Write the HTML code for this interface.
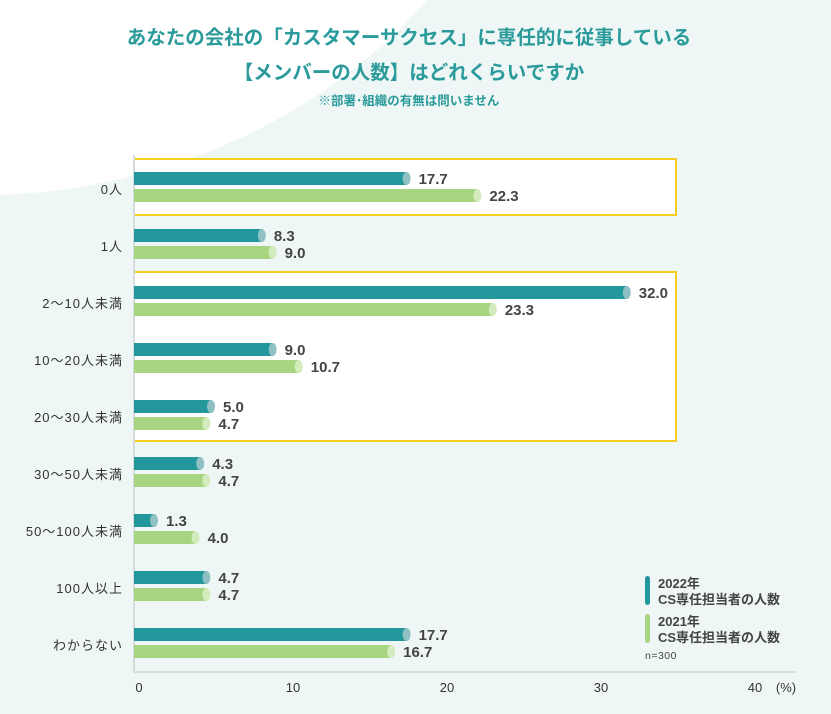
<!DOCTYPE html>
<html><head><meta charset="utf-8"><style>
html,body{margin:0;padding:0;width:831px;height:714px;overflow:hidden;background:#eff7f6;font-family:"Liberation Sans","Noto Sans CJK JP",sans-serif;}
</style></head><body>
<svg id="chart" width="831" height="714" xmlns="http://www.w3.org/2000/svg" font-family="'Liberation Sans','Noto Sans CJK JP',sans-serif">
<rect width="831" height="714" fill="#eff7f6"/>
<ellipse cx="-20" cy="-330" rx="575" ry="525" fill="#ffffff"/>
<text x="409" y="44" text-anchor="middle" font-size="19.5" font-weight="bold" fill="#2b9a9a">あなたの会社の「カスタマーサクセス」に専任的に従事している</text>
<text x="409" y="79" text-anchor="middle" font-size="19.5" font-weight="bold" fill="#2b9a9a">【メンバーの人数】はどれくらいですか</text>
<text x="409" y="105" text-anchor="middle" font-size="12.5" font-weight="bold" fill="#2b9a9a">※部署･組織の有無は問いません</text>
<g id="plot"></g>
<g>
<rect x="645" y="576" width="5" height="29" rx="2.5" fill="#22979c"/>
<text x="658" y="588" font-size="13" font-weight="bold" fill="#444">2022年</text>
<text x="658" y="604" font-size="13" font-weight="bold" fill="#444">CS専任担当者の人数</text>
<rect x="645" y="614" width="5" height="29" rx="2.5" fill="#a8d582"/>
<text x="658" y="626" font-size="13" font-weight="bold" fill="#444">2021年</text>
<text x="658" y="642" font-size="13" font-weight="bold" fill="#444">CS専任担当者の人数</text>
<text x="645" y="659" font-size="10.5" fill="#444" letter-spacing="0.5">n=300</text>
</g>
</svg>
<script>
const categories=["0人","1人","2～10人未満","10～20人未満","20～30人未満","30～50人未満","50～100人未満","100人以上","わからない"];
const values2022=[17.7,8.3,32.0,9.0,5.0,4.3,1.3,4.7,17.7];
const values2021=[22.3,9.0,23.3,10.7,4.7,4.7,4.0,4.7,16.7];
const xTicks=[0,10,20,30,40];
const NS="http://www.w3.org/2000/svg";
const g=document.getElementById('plot');
const x0=134,pxPer=15.4,rowTop=189,rowStep=57;
const xs=v=>x0+v*pxPer;
const ys=i=>rowTop+i*rowStep;
function mk(t,a){const e=document.createElementNS(NS,t);for(const k in a)e.setAttribute(k,a[k]);g.appendChild(e);return e;}
let hb=mk('rect',{x:134,y:ys(0)-30,width:542,height:56,fill:'#fff',stroke:'#f2cf1f','stroke-width':2});


hb=mk('rect',{x:134,y:ys(2)-31,width:542,height:169,fill:'#fff',stroke:'#f2cf1f','stroke-width':2});


let ax=mk('line',{x1:x0,y1:155,x2:x0,y2:672,stroke:'#d6dcdc','stroke-width':2});


ax=mk('line',{x1:x0,y1:672,x2:795,y2:672,stroke:'#d6dcdc','stroke-width':2});


xTicks.forEach(t=>{const e=mk('text',{x:xs(t)+5,y:692,'text-anchor':'middle','font-size':13,fill:'#333'});e.textContent=t;

});
let u=mk('text',{x:786,y:692,'text-anchor':'middle','font-size':13,fill:'#333'});u.textContent='(%)';


function bar(i,v,yy,col,cap,name){
 const w=Math.max(xs(v)-x0,0);
 const r=mk('rect',{x:x0,y:yy,width:w,height:13,fill:col});
 
 
 const c=mk('ellipse',{cx:x0+w,cy:yy+6.5,rx:4,ry:6.5,fill:cap});
 
 
 const t=mk('text',{x:x0+w+12,y:yy+12,'font-size':15,'font-weight':'bold',fill:'#444'});t.textContent=v.toFixed(1);
 
 
}
categories.forEach((c,i)=>{
 const y=ys(i);
 const l=mk('text',{x:123,y:y+5,'text-anchor':'end','font-size':13,fill:'#333','letter-spacing':'1'});l.textContent=c;
 
 
 bar(i,values2022[i],y-17,'#22979c','#8fc0c3','bar-2022-'+i);
 bar(i,values2021[i],y,'#a8d582','#d3ebbd','bar-2021-'+i);
});
</script>
</body></html>
